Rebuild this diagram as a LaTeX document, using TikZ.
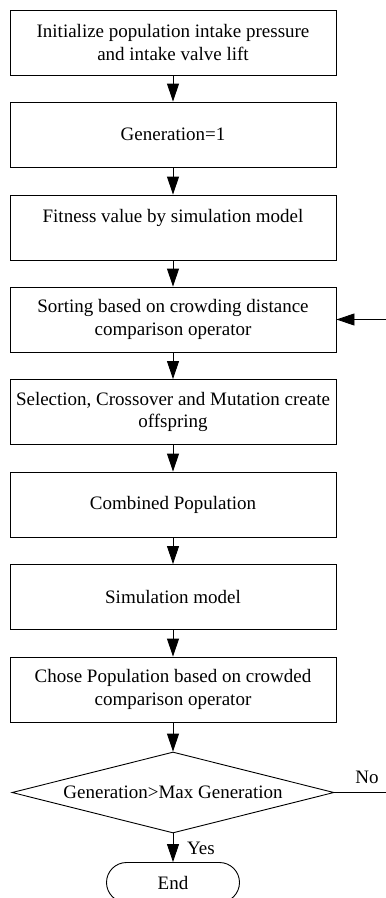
\documentclass[tikz,border=0pt]{standalone}
\usepackage{fontspec}
\setmainfont{Liberation Serif}
\usetikzlibrary{shapes.geometric,arrows.meta}
\begin{document}
\begin{tikzpicture}[x=1pt,y=-1pt,line width=0.9pt,
  font=\fontsize{19}{22.5}\selectfont,
  stepbox/.style={draw,rectangle,minimum width=326pt,minimum height=65pt,
    align=center,inner sep=0pt},
  flow/.style={-{Triangle[length=18pt,width=12pt]}}]
\useasboundingbox (0,0) rectangle (386,898);
\clip (0,0) rectangle (386,898);

% process steps
\node[stepbox] (init)  at (173,42.5)  {Initialize population intake pressure\\and intake valve lift};
\node[stepbox] (gen)   at (173,134.5) {Generation=1};
\node[stepbox] (fit)   at (173,227.5) {Fitness value by simulation model\\\mbox{}};
\node[stepbox] (sort)  at (173,319.5) {Sorting based on crowding distance\\comparison operator};
\node[stepbox] (sel)   at (173,412)   {Selection, Crossover and Mutation create\\offspring};
\node[stepbox] (comb)  at (173,504.5) {Combined Population};
\node[stepbox] (sim)   at (173,597)   {Simulation model};
\node[stepbox] (chose) at (173,689.5) {Chose Population based on crowded\\comparison operator};

% decision and terminator
\node[draw,diamond,minimum width=322pt,minimum height=81pt,inner sep=0pt,
  shape aspect=4] (test) at (173,792.5) {Generation>Max Generation};
\node[draw,rounded corners=20pt,minimum width=133pt,minimum height=40pt,
  inner sep=0pt] (end) at (173,882.5) {End};

% main flow
\draw[flow] (init) -- (gen);
\draw[flow] (gen) -- (fit);
\draw[flow] (fit) -- (sort);
\draw[flow] (sort) -- (sel);
\draw[flow] (sel) -- (comb);
\draw[flow] (comb) -- (sim);
\draw[flow] (sim) -- (chose);
\draw[flow] (chose) -- (test);
\draw[flow] (test) -- (end);

% loop back
\coordinate (noend) at (386,792.5);
\coordinate (loopin) at (386,319.5);
\draw (test.east) -- (noend);
\draw[flow] (loopin) -- (sort.east);

% branch labels
\node (no)  at (367,777) {No};
\node (yes) at (201,848) {Yes};
\end{tikzpicture}
\end{document}
